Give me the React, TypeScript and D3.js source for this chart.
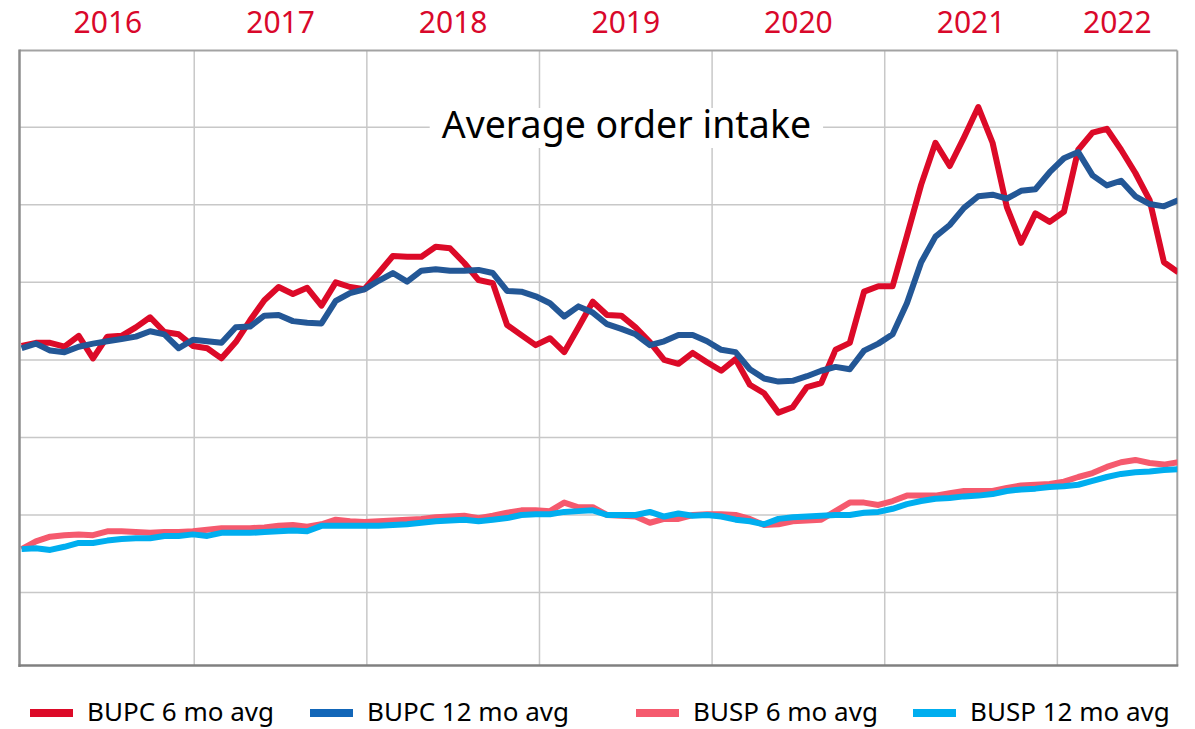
import React, { useEffect, useRef, useState } from 'react';
import * as d3 from 'd3';

// chart values (index units, gridline every 100)
const years = [2016, 2017, 2018, 2019, 2020, 2021, 2022];
const gridValues = [100, 200, 300, 400, 500, 600, 700];

const bupc6 = [
  418, 422, 422, 417, 431, 402, 430, 431, 442, 455, 436, 433, 418, 415, 402, 423, 451, 477, 494, 485,
  493, 470, 500, 494, 491, 512, 534, 533, 533, 546, 544, 525, 503, 499, 445, 432, 419, 428, 410, 442,
  475, 458, 457, 442, 423, 400, 395, 409, 397, 386, 401, 368, 357, 332, 339, 365, 370, 413, 422, 488,
  495, 495, 560, 626, 680, 650, 687, 726, 680, 597, 551, 589, 578, 591, 671, 693, 698, 671, 641, 606,
  526, 513,
];
const bupc12 = [
  415, 421, 412, 410, 417, 421, 424, 427, 430, 437, 433, 415, 426, 424, 422, 442, 443, 457, 458, 450,
  448, 447, 476, 486, 491, 502, 512, 501, 515, 517, 515, 515, 516, 512, 489, 488, 482, 473, 456, 469,
  461, 446, 440, 433, 419, 424, 432, 432, 424, 413, 410, 388, 376, 372, 373, 379, 386, 391, 388, 412,
  421, 433, 473, 526, 559, 574, 596, 611, 613, 608, 618, 620, 642, 660, 668, 638, 625, 631, 611, 601,
  598, 606,
];
const busp6 = [
  156, 166, 172, 174, 175, 174, 179, 179, 178, 177, 178, 178, 179, 181, 183, 183, 183, 184, 186, 187,
  185, 188, 194, 192, 191, 192, 193, 194, 195, 197, 198, 199, 196, 199, 203, 206, 206, 205, 216, 210,
  210, 200, 199, 198, 190, 195, 195, 200, 201, 201, 200, 195, 187, 188, 192, 193, 194, 205, 216, 216,
  213, 218, 225, 225, 225, 228, 231, 231, 231, 235, 238, 239, 240, 243, 249, 254, 262, 268, 271, 267,
  265, 268,
];
const busp12 = [
  156, 157, 155, 159, 164, 164, 167, 169, 170, 170, 173, 173, 175, 173, 177, 177, 177, 178, 179, 180,
  179, 186, 186, 186, 186, 186, 187, 188, 190, 192, 193, 194, 192, 194, 196, 200, 201, 201, 204, 205,
  206, 200, 200, 200, 204, 198, 202, 199, 200, 198, 194, 192, 188, 195, 197, 198, 199, 200, 200, 203,
  204, 208, 214, 218, 221, 222, 224, 225, 227, 231, 233, 234, 236, 237, 239, 244, 249, 253, 255, 256,
  258, 259,
];

const series = [
  { name: 'BUPC 6 mo avg', values: bupc6, color: '#dc0a28', swatch: '#dc0a28' },
  { name: 'BUPC 12 mo avg', values: bupc12, color: '#235796', swatch: '#1266b8' },
  { name: 'BUSP 6 mo avg', values: busp6, color: '#f55a6e', swatch: '#f55a6e' },
  { name: 'BUSP 12 mo avg', values: busp12, color: '#00aeef', swatch: '#00aeef' },
];

const title = 'Average order intake';
const legendX = [30, 310, 636, 913];

const W = 1195;
const H = 729;
const plot = { left: 19.5, right: 1177.3, top: 50.5, bottom: 665.5 };
const startYear = 2016;
const endYear = 2022.7;
const font = '"Noto Sans", "Open Sans", sans-serif';

const x = d3.scaleLinear().domain([startYear, endYear]).range([21.6, 1178.2]);
const y = d3.scaleLinear().domain([0, 800]).range([670.1, 49.7]);

const n = bupc6.length;
const t = (i: number) => startYear + (i * (endYear - startYear)) / (n - 1);

const line = d3
  .line<number>()
  .x((_, i) => x(t(i)))
  .y((d) => y(d));

const App = () => {
  const titleRef = useRef<SVGTextElement>(null);
  const [box, setBox] = useState<{ x: number; w: number } | null>(null);

  useEffect(() => {
    if (titleRef.current) {
      const b = titleRef.current.getBBox();
      setBox({ x: b.x, w: b.width });
    }
  }, []);

  const titleX = (plot.left + plot.right) / 2 + 28;

  return (
    <div style={{ position: 'absolute', left: 0, top: 0 }}>
      <svg width={W} height={H} style={{ display: 'block', background: '#fff' }}>
        <defs>
          <clipPath id="plot-clip">
            <rect x={plot.left} y={plot.top} width={plot.right - plot.left} height={plot.bottom - plot.top} />
          </clipPath>
        </defs>

        {/* year labels */}
        {years.map((yr) => {
          const a = Math.max(x(yr), plot.left);
          const b = Math.min(x(yr + 1), plot.right);
          return (
            <text
              key={yr}
              x={(a + b) / 2}
              y={33}
              textAnchor="middle"
              fontFamily={font}
              fontSize={30}
              fill="#d9082b"
            >
              {yr}
            </text>
          );
        })}

        {/* gridlines */}
        {gridValues.map((v) => (
          <line key={v} x1={plot.left} x2={plot.right} y1={y(v)} y2={y(v)} stroke="#c8c8c8" strokeWidth={1.5} />
        ))}
        {years.slice(1).map((yr) => (
          <line key={yr} x1={x(yr)} x2={x(yr)} y1={plot.top} y2={plot.bottom} stroke="#c8c8c8" strokeWidth={1.5} />
        ))}

        {/* title with white box */}
        {box && <rect x={box.x - 12} y={108} width={box.w + 24} height={40} fill="#fff" />}
        <text ref={titleRef} x={titleX} y={138} textAnchor="middle" fontFamily={font} fontSize={37.5} fill="#000">
          {title}
        </text>

        {/* frame */}
        <line x1={plot.left} x2={plot.right} y1={plot.top} y2={plot.top} stroke="#a3a3a3" strokeWidth={2} />
        <line x1={plot.right} x2={plot.right} y1={plot.top} y2={plot.bottom} stroke="#a3a3a3" strokeWidth={2} />

        {/* series */}
        <g clipPath="url(#plot-clip)">
          {series.map((s) => (
            <path
              key={s.name}
              d={line(s.values) || ''}
              fill="none"
              stroke={s.color}
              strokeWidth={6}
              strokeLinejoin="round"
            />
          ))}
        </g>

        <line x1={plot.left} x2={plot.left} y1={plot.top - 1} y2={plot.bottom + 1.5} stroke="#8c8c8c" strokeWidth={2.5} />
        <line x1={plot.left - 1} x2={plot.right + 1} y1={plot.bottom} y2={plot.bottom} stroke="#808080" strokeWidth={2.5} />

        {/* legend */}
        {series.map((s, i) => (
          <g key={s.name} transform={`translate(${legendX[i]}, 713)`}>
            <line x1={0} x2={43} y1={0} y2={0} stroke={s.swatch} strokeWidth={8} />
            <text x={57} y={8} fontFamily={font} fontSize={26} fill="#000">
              {s.name}
            </text>
          </g>
        ))}
      </svg>
    </div>
  );
};

export default App;
